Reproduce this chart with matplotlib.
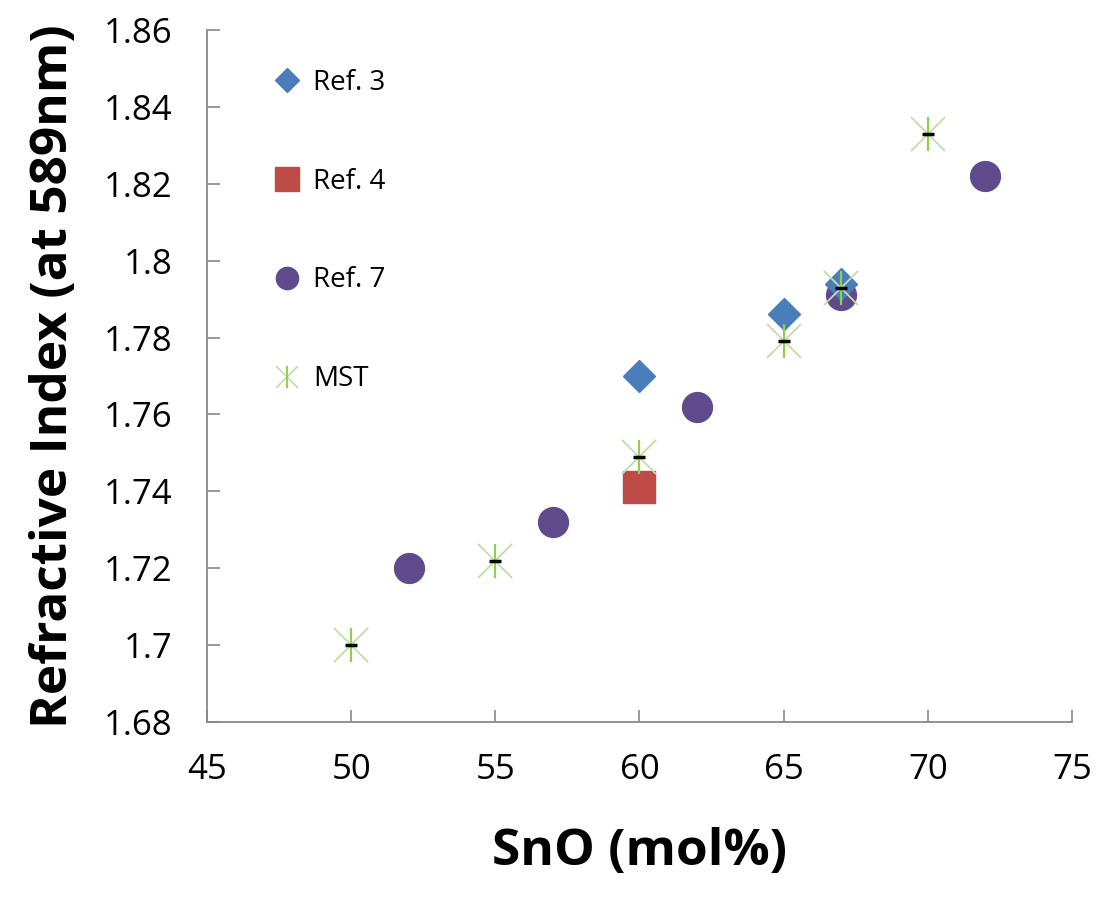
import matplotlib.pyplot as plt
from matplotlib.lines import Line2D
import numpy as np

plt.rcParams['font.family'] = ['Open Sans', 'DejaVu Sans']

# refractive index (589 nm) vs SnO content
ref3_x = [60, 65, 67]
ref3_y = [1.770, 1.786, 1.794]

ref4_x = [60]
ref4_y = [1.741]

ref7_x = [52, 57, 62, 67, 72]
ref7_y = [1.720, 1.732, 1.762, 1.791, 1.822]

mst_x = [50, 55, 60, 65, 67, 70]
mst_y = [1.700, 1.722, 1.749, 1.779, 1.793, 1.833]

xticks = [45, 50, 55, 60, 65, 70, 75]
yticks = [1.68, 1.70, 1.72, 1.74, 1.76, 1.78, 1.80, 1.82, 1.84, 1.86]
ytick_labels = ['1.68', '1.7', '1.72', '1.74', '1.76', '1.78', '1.8', '1.82', '1.84', '1.86']

blue = '#4a7ebb'
red = '#be4b48'
purple = '#5f4b8b'
green = '#8fd14f'
pale_green = '#c5dca8'

fig = plt.figure(figsize=(10.98, 9.05), dpi=100)
ax = fig.add_axes([0.1885, 0.2022, 0.7878, 0.7647])

ax.plot(ref7_x, ref7_y, 'o', color=purple, ms=21.5, mec=purple, zorder=3)
ax.plot(ref3_x, ref3_y, 'D', color=blue, ms=16.5, mec=blue, zorder=4)
ax.plot(ref4_x, ref4_y, 's', color=red, ms=23, mec=red, zorder=3)
# MST: asterisk-style marker with a short black bar in the middle
ax.plot(mst_x, mst_y, 'x', color=pale_green, ms=25, mew=1.3, zorder=5)
ax.plot(mst_x, mst_y, '|', color=green, ms=24, mew=1.6, zorder=5)
ax.plot(mst_x, mst_y, '_', color='black', ms=8, mew=2.5, zorder=6)

ax.set_xlim(45, 75)
ax.set_ylim(1.68, 1.86)
ax.set_xticks(xticks)
ax.set_yticks(yticks)
ax.set_yticklabels(ytick_labels)
ax.tick_params(direction='in', length=9, width=1.2, color='#888888',
               labelsize=25, pad=25)
ax.tick_params(axis='x', pad=22)

for side in ['top', 'right']:
    ax.spines[side].set_visible(False)
for side in ['left', 'bottom']:
    ax.spines[side].set_color('#888888')
    ax.spines[side].set_linewidth(1.3)

ax.set_xlabel('SnO (mol%)', fontsize=37, fontweight='bold', labelpad=29)
ax.set_ylabel('Refractive Index (at 589nm)', fontsize=37, fontweight='bold', labelpad=18)

mst_handle = (Line2D([], [], ls='none', marker='x', color=pale_green, ms=16, mew=1.2),
              Line2D([], [], ls='none', marker='|', color=green, ms=16, mew=1.4))
handles = [
    Line2D([], [], ls='none', marker='D', color=blue, ms=12),
    Line2D([], [], ls='none', marker='s', color=red, ms=17),
    Line2D([], [], ls='none', marker='o', color=purple, ms=16),
    mst_handle,
]
leg = ax.legend(handles, ['Ref. 3', 'Ref. 4', 'Ref. 7', 'MST'], loc='upper left',
                bbox_to_anchor=(0.047, 0.98), frameon=False, fontsize=20,
                labelspacing=2.55, handlelength=1.0, handletextpad=0.45)

fig.savefig('out.png', dpi=100)
